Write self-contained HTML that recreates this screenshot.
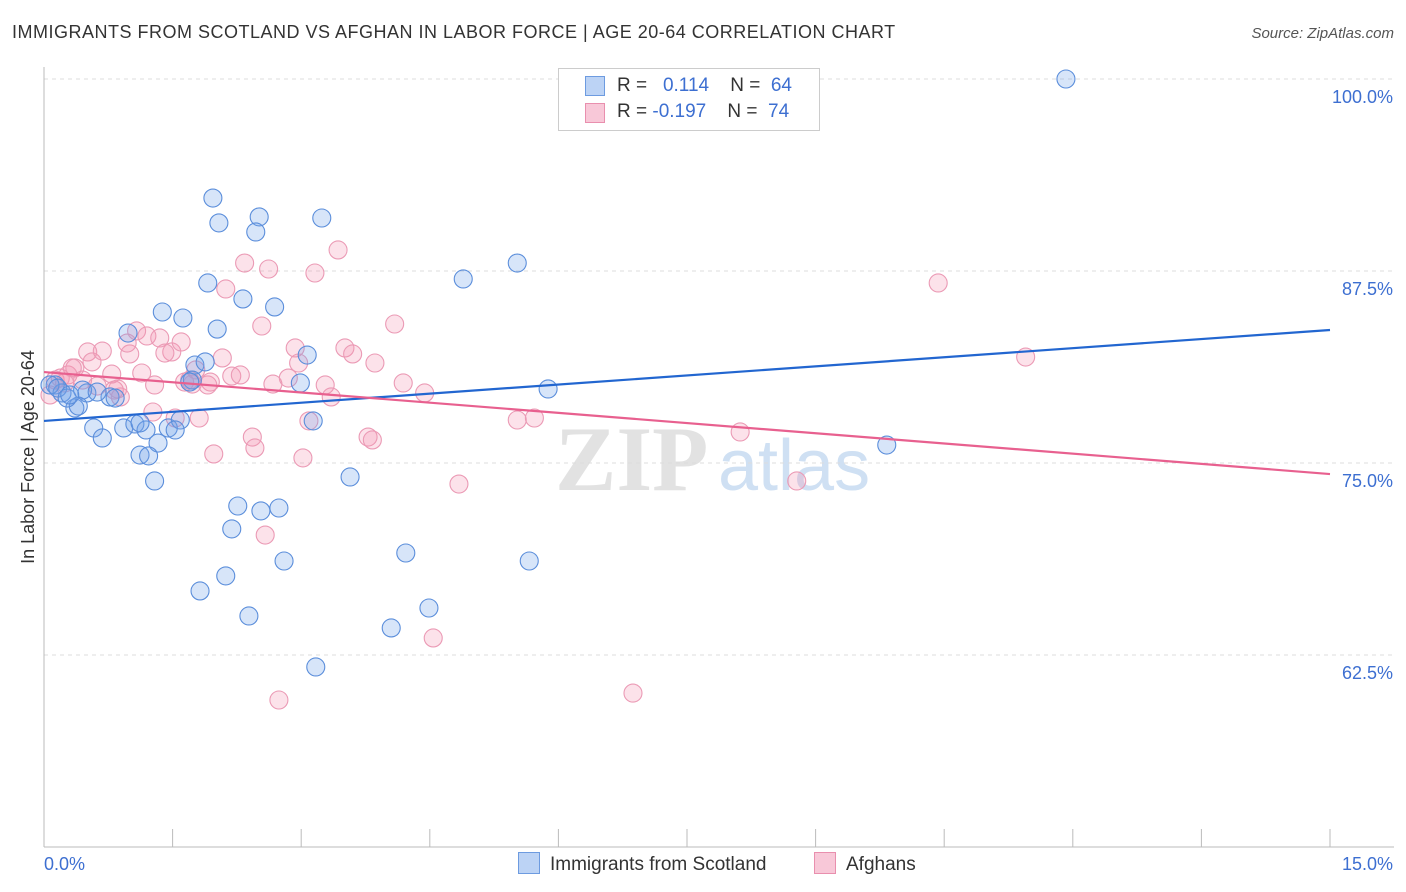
<!DOCTYPE html>
<html><head><meta charset="utf-8"><style>
body{margin:0;background:#fff;font-family:"Liberation Sans",sans-serif;}
#wrap{position:relative;width:1406px;height:892px;overflow:hidden;}
.t{position:absolute;white-space:nowrap;}
</style></head><body>
<div id="wrap">
<div class="t" style="left:12px;top:22px;font-size:18px;color:#333;letter-spacing:0.5px">IMMIGRANTS FROM SCOTLAND VS AFGHAN IN LABOR FORCE | AGE 20-64 CORRELATION CHART</div>
<div class="t" style="right:12px;top:25px;font-size:15px;color:#555;font-style:italic">Source: ZipAtlas.com</div>
<svg id="svg" width="1406" height="892" style="position:absolute;left:0;top:0"></svg>
</div>
<script>
const xTicks=[0,1.5,3,4.5,6,7.5,9,10.5,12,13.5,15];
const yTicks=[62.5,75,87.5,100];
const yTickLabels=["62.5%","75.0%","87.5%","100.0%"];
const blueX=[11.92,1.97,2.51,3.24,2.04,2.47,5.52,4.89,1.91,2.32,2.69,1.38,1.62,0.98,2.02,3.07,1.76,1.88,1.73,5.88,0.13,0.21,0.50,0.77,0.45,0.62,0.83,0.36,0.40,0.58,0.93,1.06,1.19,1.45,1.59,3.14,0.68,1.33,1.12,1.22,9.83,1.29,3.57,2.26,2.74,2.53,2.19,4.22,2.80,5.66,2.12,1.82,4.49,2.39,4.05,3.17,0.07,0.16,0.27,1.12,1.53,2.99,1.70,0.30];
const blueY=[100,92.25,91.02,90.95,90.63,90.04,88.02,86.98,86.72,85.68,85.16,84.83,84.44,83.46,83.72,82.03,81.38,81.58,80.40,79.82,80.08,79.56,79.56,79.30,79.75,79.62,79.23,78.58,78.71,77.28,77.28,77.54,77.15,77.28,77.80,77.74,76.63,76.30,75.52,75.46,76.17,73.83,74.09,72.20,72.07,71.88,70.71,69.14,68.62,68.62,67.65,66.67,65.56,65.04,64.26,61.72,80.08,79.88,79.23,77.61,77.15,80.21,80.27,79.43];
const pinkX=[0.07,0.13,0.19,0.28,0.36,0.33,0.51,0.56,0.68,0.79,1.00,0.97,1.08,1.20,1.35,1.49,1.41,1.60,1.29,1.27,1.53,1.64,1.73,1.81,1.94,2.08,2.19,2.29,2.12,2.34,2.62,2.54,2.67,2.85,2.93,2.97,3.16,3.43,3.51,3.60,3.86,3.28,3.35,3.09,2.43,2.46,1.98,3.02,4.09,4.19,4.44,3.78,3.83,5.52,5.72,4.84,8.12,8.78,10.43,11.45,2.58,4.54,2.74,6.87,0.82,0.89,0.62,0.45,1.77,1.91,0.86,1.70,1.14,0.24];
const pinkY=[79.43,80.40,80.53,80.73,81.19,81.19,82.23,81.58,82.29,80.79,82.10,82.81,83.60,83.27,83.14,82.23,82.16,82.88,80.08,78.32,77.93,80.27,80.14,77.93,80.27,81.84,80.66,80.73,86.33,88.02,87.63,83.92,80.14,80.53,82.49,81.51,87.37,88.87,82.49,82.10,81.51,80.08,79.30,77.74,76.69,75.98,75.59,75.33,84.05,80.21,79.56,76.69,76.50,77.80,77.93,73.63,77.02,73.83,86.72,81.90,70.31,63.61,59.57,60.02,79.75,79.30,80.01,80.40,81.06,80.08,79.82,80.40,80.86,80.21];
const blueTrend=[77.74,83.66];
const pinkTrend=[80.92,74.28];

const NS="http://www.w3.org/2000/svg";
const svg=document.getElementById('svg');
const X0=44,X1=1330,Y0=847,Y1=79;
const sx=v=>X0+(v-0)/15*(X1-X0);
const sy=v=>Y0-(v-50)/50*(Y0-Y1);
function mk(tag,attrs,parent){const e=document.createElementNS(NS,tag);for(const k in attrs)e.setAttribute(k,attrs[k]);(parent||svg).appendChild(e);return e;}

let w1=mk('text',{x:555,y:490,'font-size':92,'font-family':'Liberation Serif, serif',fill:'#e2e2e2','font-weight':'bold'});
w1.textContent='ZIP';


let w2=mk('text',{x:718,y:490,'font-size':72,'font-family':'Liberation Sans, sans-serif',fill:'#cfe0f3'});
w2.textContent='atlas';



yTicks.forEach((v,i)=>{
  const g=mk('line',{x1:X0,x2:1394,y1:sy(v),y2:sy(v),stroke:'#dcdcdc','stroke-dasharray':'4,4'});
  
  
  const t=mk('text',{x:1393,y:sy(v)+24,'text-anchor':'end','font-size':18,fill:'#3d6fd1','font-family':'Liberation Sans, sans-serif'});
  t.textContent=yTickLabels[i];
  
  
});
mk('line',{x1:X0,x2:X0,y1:67,y2:Y0,stroke:'#bbb'});
mk('line',{x1:X0,x2:1394,y1:Y0,y2:Y0,stroke:'#bbb'});
xTicks.forEach(v=>{
  const l=mk('line',{x1:sx(v),x2:sx(v),y1:Y0-18,y2:Y0,stroke:'#bbb'});
  
  
});
let xl=mk('text',{x:44,y:870,'font-size':18,fill:'#3d6fd1','font-family':'Liberation Sans, sans-serif'});xl.textContent='0.0%';


let xr=mk('text',{x:1393,y:870,'text-anchor':'end','font-size':18,fill:'#3d6fd1','font-family':'Liberation Sans, sans-serif'});xr.textContent='15.0%';


let yt=mk('text',{x:0,y:0,transform:'translate(34,457) rotate(-90)','text-anchor':'middle','font-size':18,fill:'#333','font-family':'Liberation Sans, sans-serif'});yt.textContent='In Labor Force | Age 20-64';



function pts(xs,ys,fill,stroke,name){
  xs.forEach((v,i)=>{
    const c=mk('circle',{cx:sx(v),cy:sy(ys[i]),r:9,fill:fill,stroke:stroke,'stroke-width':1.1});
    
    
  });
}
pts(pinkX,pinkY,'rgba(244,150,180,0.28)','#eb9ab5','afghan-point');
pts(blueX,blueY,'rgba(110,160,235,0.28)','#5b8edb','scotland-point');
let bl=mk('line',{x1:sx(0),x2:sx(15),y1:sy(blueTrend[0]),y2:sy(blueTrend[1]),stroke:'#2266d0','stroke-width':2.2});


let pl=mk('line',{x1:sx(0),x2:sx(15),y1:sy(pinkTrend[0]),y2:sy(pinkTrend[1]),stroke:'#e8608f','stroke-width':2.2});


</script>
<div class="t" style="left:558px;top:68px;width:260px;height:61px;border:1px solid #ccc;background:#fff;font-size:19px;color:#333">
 <div style="position:absolute;left:26px;top:7px;width:18px;height:18px;background:#bcd3f5;border:1px solid #6d9be0"></div>
 <div class="t" style="left:58px;top:6px">R = &nbsp;&nbsp;<span style="color:#3d6fd1">0.114</span>&nbsp;&nbsp;&nbsp; N = &nbsp;<span style="color:#3d6fd1">64</span></div>
 <div style="position:absolute;left:26px;top:34px;width:18px;height:18px;background:#f8c8d8;border:1px solid #e98fae"></div>
 <div class="t" style="left:58px;top:32px">R = <span style="color:#3d6fd1">-0.197</span>&nbsp;&nbsp;&nbsp; N = &nbsp;<span style="color:#3d6fd1">74</span></div>
</div>
<div class="t" style="left:518px;top:852px;font-size:19px;color:#333"><span style="display:inline-block;width:20px;height:20px;background:#bcd3f5;border:1px solid #6d9be0;vertical-align:-4px;margin-right:10px"></span>Immigrants from Scotland</div>
<div class="t" style="left:814px;top:852px;font-size:19px;color:#333"><span style="display:inline-block;width:20px;height:20px;background:#f8c8d8;border:1px solid #e98fae;vertical-align:-4px;margin-right:10px"></span>Afghans</div>
</body></html>
